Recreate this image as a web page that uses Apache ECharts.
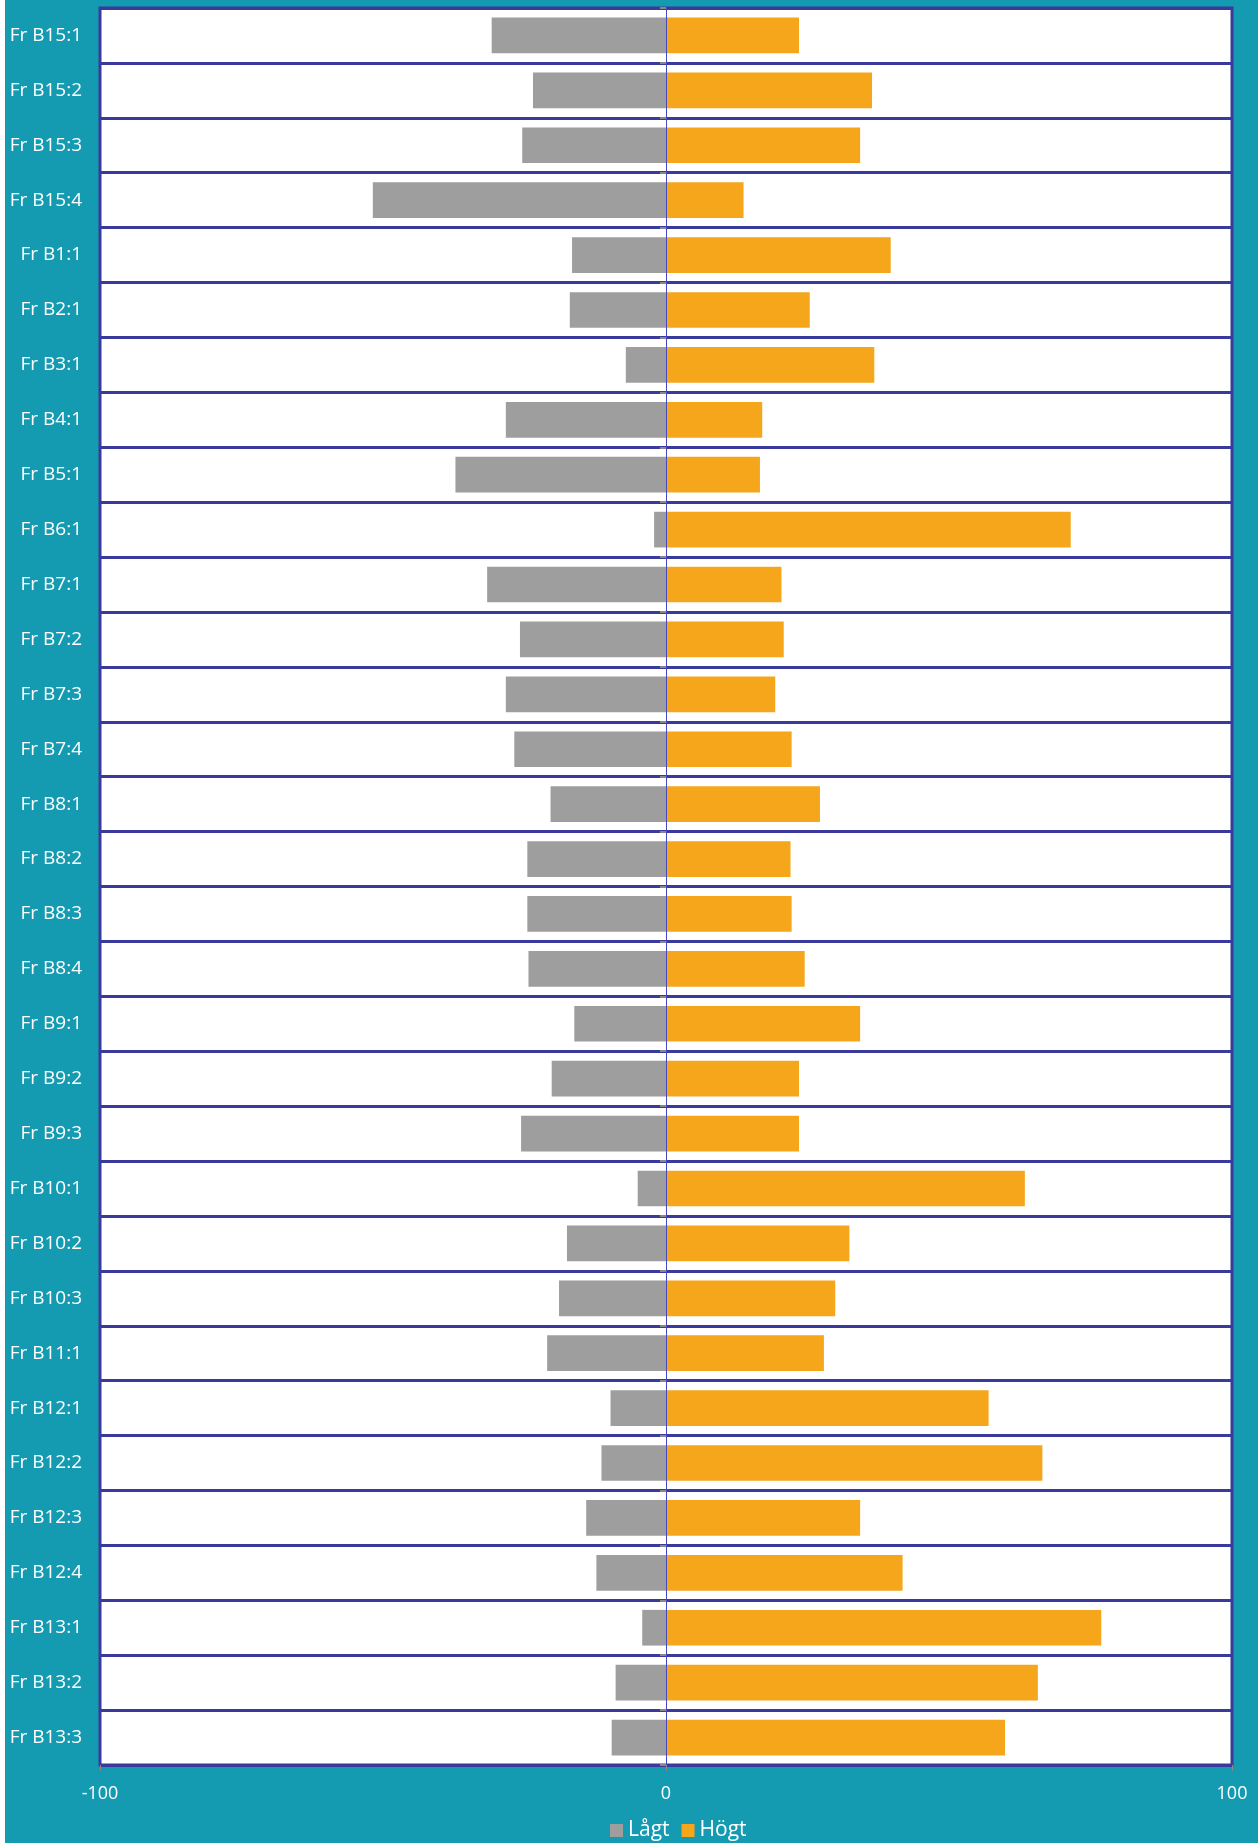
<!DOCTYPE html>
<html>
<head>
<meta charset="utf-8">
<script src="https://cdn.jsdelivr.net/npm/echarts@6/dist/echarts.min.js"></script>
<style>
  html, body { margin: 0; padding: 0; background: #fff; }
  #chart { position: absolute; left: 5px; top: 0; width: 1253px; height: 1843px; }
</style>
</head>
<body>
<div id="chart"></div>
<script>
// rows, top to bottom
const categories = [
  'Fr B15:1', 'Fr B15:2', 'Fr B15:3', 'Fr B15:4', 'Fr B1:1', 'Fr B2:1', 'Fr B3:1', 'Fr B4:1',
  'Fr B5:1', 'Fr B6:1', 'Fr B7:1', 'Fr B7:2', 'Fr B7:3', 'Fr B7:4', 'Fr B8:1', 'Fr B8:2',
  'Fr B8:3', 'Fr B8:4', 'Fr B9:1', 'Fr B9:2', 'Fr B9:3', 'Fr B10:1', 'Fr B10:2', 'Fr B10:3',
  'Fr B11:1', 'Fr B12:1', 'Fr B12:2', 'Fr B12:3', 'Fr B12:4', 'Fr B13:1', 'Fr B13:2', 'Fr B13:3'
]
// Lågt (negative side)
const lagt = [
  -30.8, -23.5, -25.4, -51.8, -16.6, -17.0, -7.1, -28.3,
  -37.2, -2.1, -31.6, -25.8, -28.3, -26.8, -20.4, -24.5,
  -24.5, -24.3, -16.2, -20.2, -25.6, -5.0, -17.5, -18.9,
  -21.0, -9.8, -11.4, -14.1, -12.3, -4.2, -8.9, -9.6
]
// Högt (positive side)
const hogt = [
  23.5, 36.4, 34.3, 13.7, 39.7, 25.4, 36.8, 17.0,
  16.6, 71.5, 20.4, 20.8, 19.3, 22.2, 27.2, 22.0,
  22.2, 24.5, 34.3, 23.5, 23.5, 63.4, 32.4, 29.9,
  27.9, 57.0, 66.5, 34.3, 41.8, 76.9, 65.7, 59.9
]
const xTicks = [-100, 0, 100]

const indigo = '#3a3a9c'
const chart = echarts.init(document.getElementById('chart'))
chart.setOption({
  backgroundColor: '#149bb1',
  animation: false,
  textStyle: { fontFamily: 'Open Sans' },
  grid: {
    left: 95, right: 26, top: 8, bottom: 78,
    show: true,
    backgroundColor: '#ffffff',
    borderColor: indigo,
    borderWidth: 3
  },
  legend: {
    data: ['Lågt', 'Högt'],
    left: 600,
    bottom: -3,
    itemWidth: 13,
    itemHeight: 13,
    itemGap: 12,
    icon: 'rect',
    textStyle: { color: '#ffffff', fontSize: 21 }
  },
  xAxis: {
    type: 'value',
    min: xTicks[0],
    max: xTicks[xTicks.length - 1],
    interval: 100,
    axisLine: { show: false },
    axisTick: { show: true, length: 6, lineStyle: { color: '#888888' } },
    splitLine: { show: false },
    axisLabel: { color: '#ffffff', fontSize: 18, margin: 20 }
  },
  yAxis: {
    type: 'category',
    inverse: true,
    data: categories,
    axisLine: { show: false },
    axisTick: { show: true, length: 6, lineStyle: { color: '#888888', width: 2 } },
    axisLabel: { color: '#ffffff', fontSize: 19, margin: 18 },
    splitLine: { show: true, lineStyle: { color: indigo, width: 3 } }
  },
  series: [
    {
      name: 'Lågt',
      type: 'bar',
      data: lagt,
      barWidth: '65%',
      barGap: '-100%',
      itemStyle: { color: '#9e9e9e' },
      markLine: {
        silent: true,
        symbol: 'none',
        label: { show: false },
        lineStyle: { color: '#4848c0', width: 1, type: 'solid' },
        data: [{ xAxis: 0 }],
        z: 5
      }
    },
    {
      name: 'Högt',
      type: 'bar',
      data: hogt,
      barWidth: '65%',
      itemStyle: { color: '#f5a61a' }
    }
  ]
})
</script>
</body>
</html>
